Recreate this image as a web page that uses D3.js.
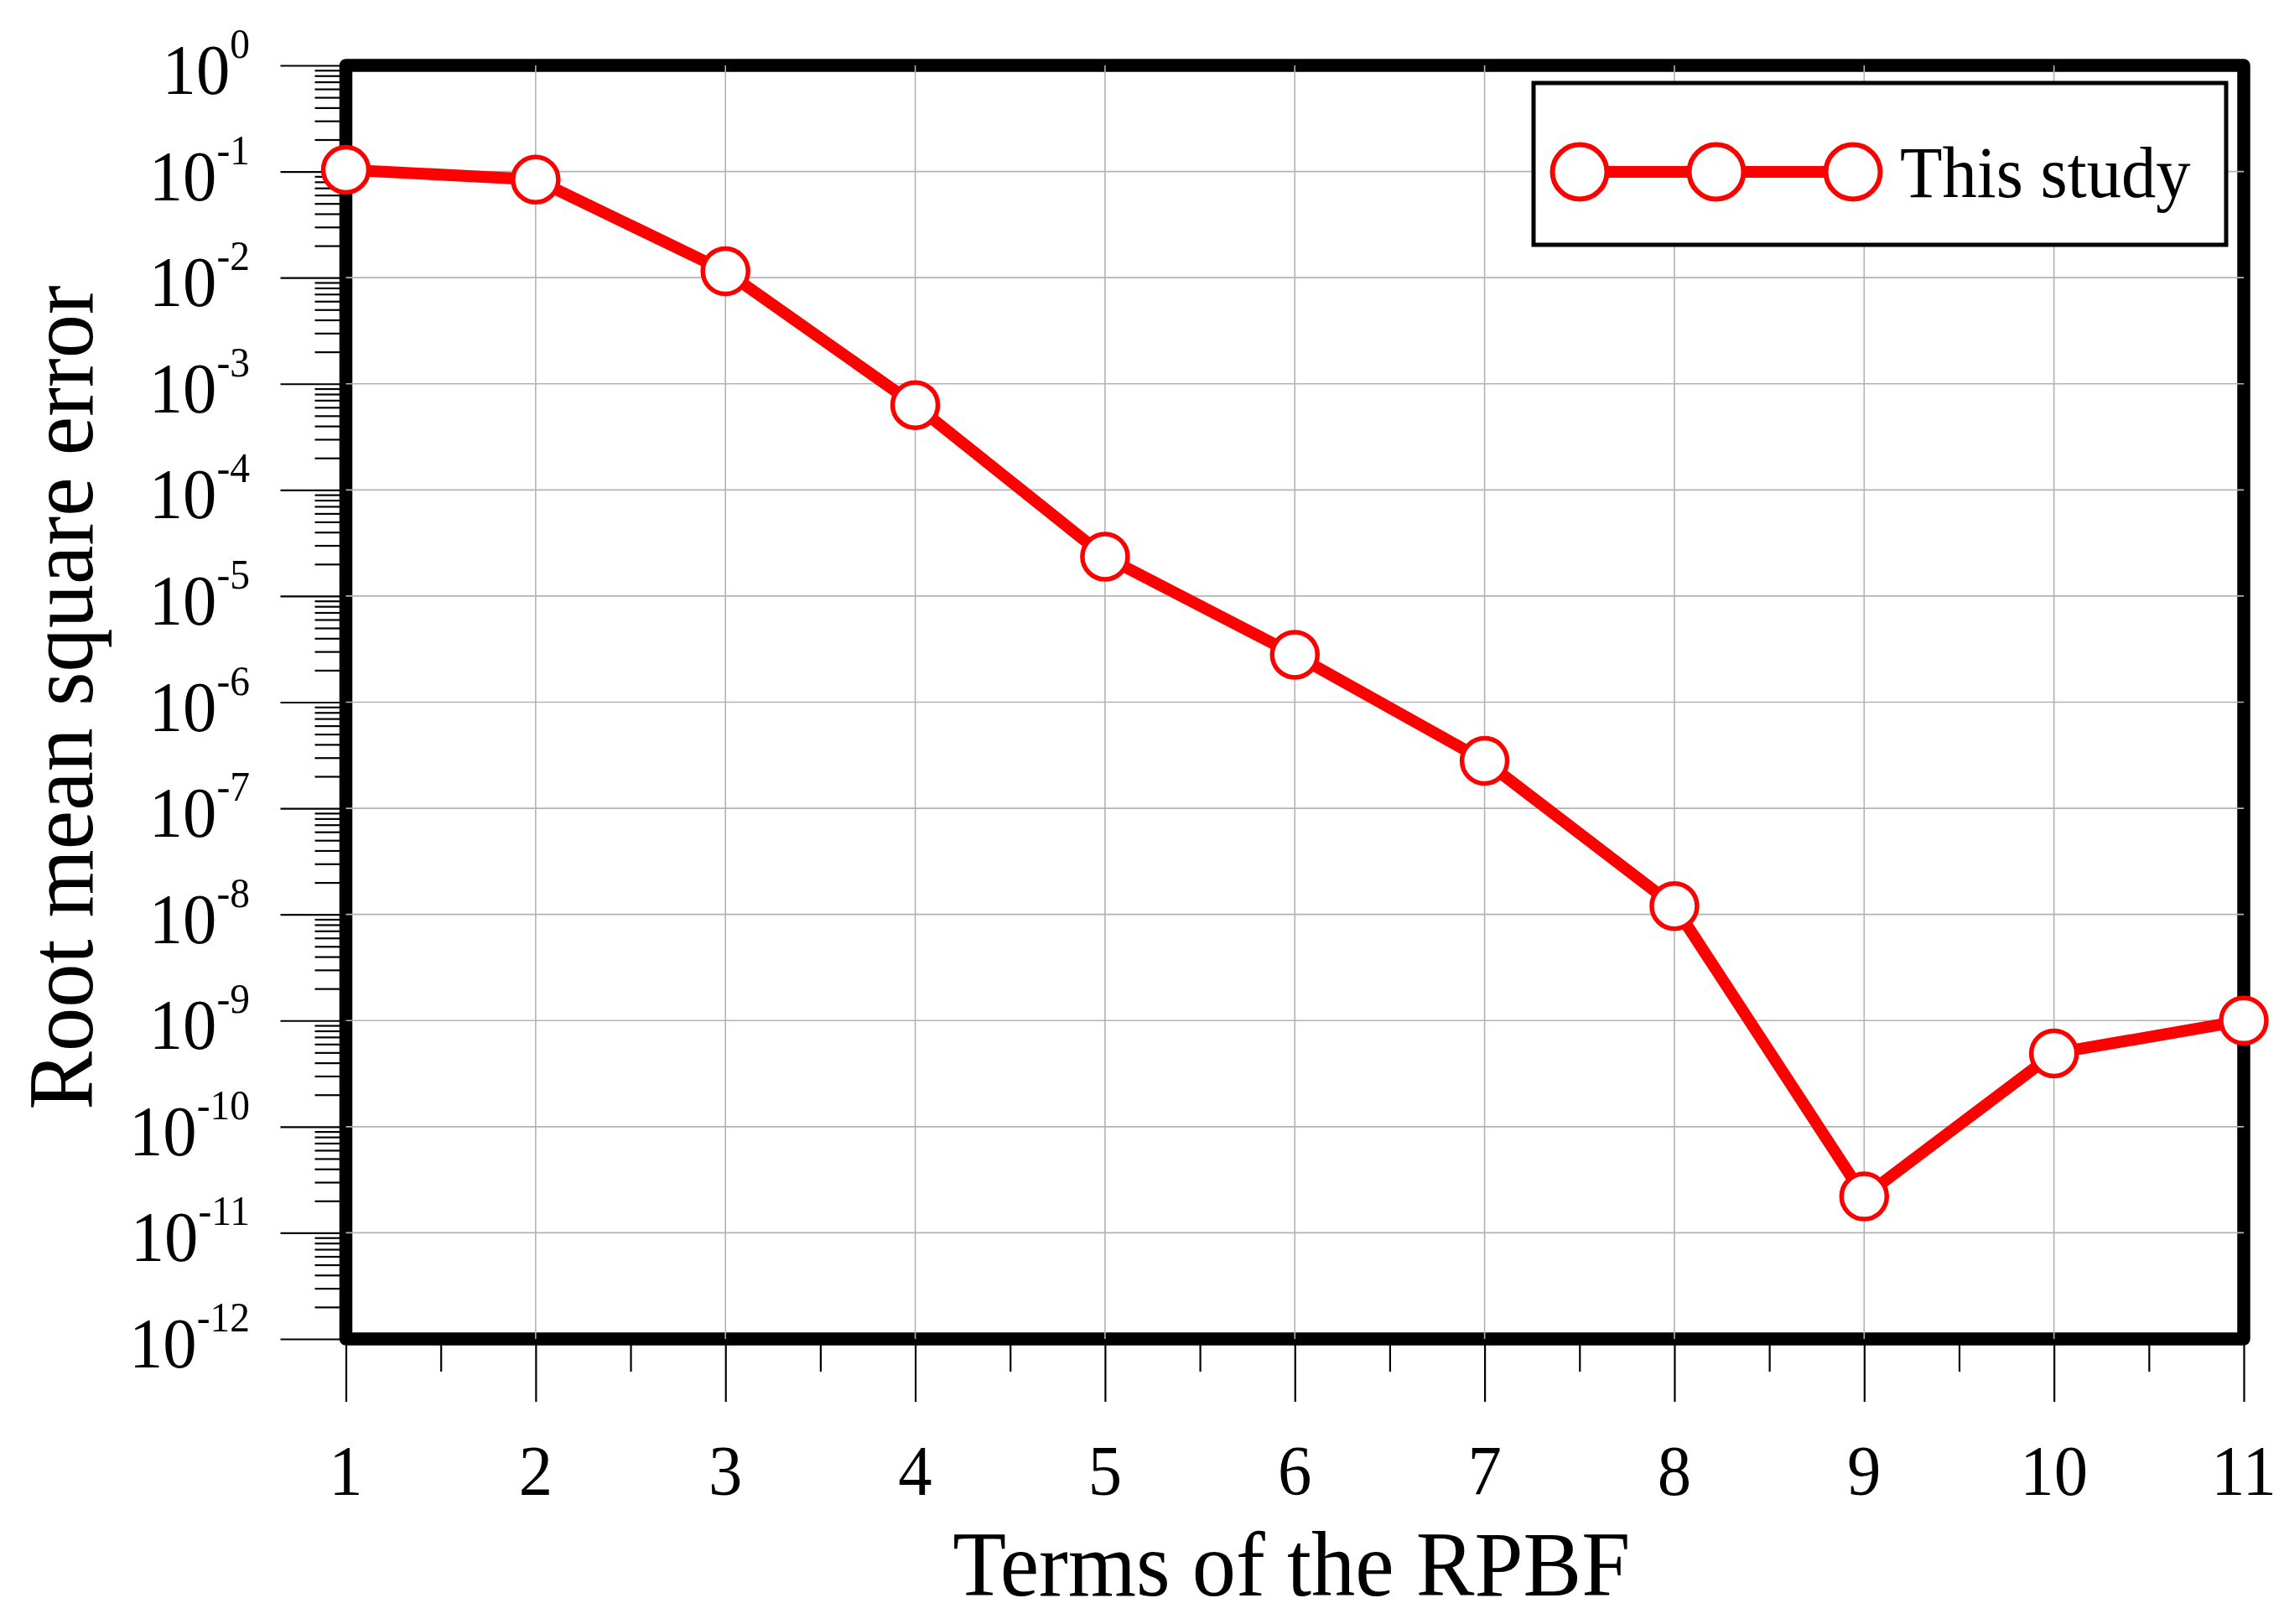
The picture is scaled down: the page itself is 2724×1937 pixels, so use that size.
<!DOCTYPE html>
<html>
<head>
<meta charset="utf-8">
<script src="https://cdn.jsdelivr.net/npm/d3@7"></script>
<style>
  html, body { margin: 0; padding: 0; background: #fff; }
  svg { display: block; }
  text { font-family: "Liberation Serif", "Times New Roman", serif; fill: #000; }
</style>
</head>
<body>
<svg id="chart" width="2724" height="1937"></svg>
<script>
// ---- data ----
const terms = [1, 2, 3, 4, 5, 6, 7, 8, 9, 10, 11];
const rmse = [0.104, 0.084, 0.0115, 6.3e-4, 2.35e-5, 2.8e-6, 2.8e-7, 1.2e-8, 2.2e-11, 4.9e-10, 1.0e-9];
const xTickLabels = ["1", "2", "3", "4", "5", "6", "7", "8", "9", "10", "11"];
const yExponents = [0, -1, -2, -3, -4, -5, -6, -7, -8, -9, -10, -11, -12];
const seriesName = "This study";
const xTitle = "Terms of the RPBF";
const yTitle = "Root mean square error";

// ---- layout ----
const pL = 412.5, pR = 2676, pT = 78, pB = 1597;
const sx = 0.95; // horizontal squeeze of the serif font

const svg = d3.select("#chart");
const x = d3.scaleLinear().domain([1, 11]).range([pL, pR]);
const y = d3.scaleLog().domain([1, 1e-12]).range([pT, pB]);

const majorY = yExponents.map(e => Math.pow(10, e));
const minorY = [];
yExponents.forEach(e => { if (e > -12) for (let k = 2; k <= 9; k++) minorY.push(k * Math.pow(10, e - 1)); });
const minorX = terms.slice(0, -1).map(t => t + 0.5);

// frame
svg.append("rect")
  .attr("x", pL).attr("y", pT)
  .attr("width", pR - pL).attr("height", pB - pT)
  .attr("fill", "none").attr("stroke", "#000").attr("stroke-width", 15.5)
  .attr("stroke-linejoin", "round");

// grid lines (interior ones, drawn over the frame like the reference)
const grid = svg.append("g").attr("stroke", "#b3b3b3").attr("stroke-width", 1.6);
grid.selectAll("line.gx").data(terms.slice(1, -1)).join("line")
  .attr("x1", d => x(d)).attr("x2", d => x(d))
  .attr("y1", pT).attr("y2", pB);
grid.selectAll("line.gy").data(majorY.slice(1, -1)).join("line")
  .attr("x1", pL).attr("x2", pR)
  .attr("y1", d => y(d)).attr("y2", d => y(d));

// axes ticks (outside)
function styleAxis(g) {
  g.select(".domain").remove();
  g.selectAll(".tick line").attr("stroke", "#000").attr("stroke-width", 2.2);
  g.selectAll(".tick text").remove();
}
svg.append("g").attr("transform", `translate(${pL - 7},0)`)
  .call(d3.axisLeft(y).tickValues(majorY).tickSize(71).tickFormat(""))
  .call(styleAxis);
svg.append("g").attr("transform", `translate(${pL - 7},0)`)
  .call(d3.axisLeft(y).tickValues(minorY).tickSize(30).tickFormat(""))
  .call(styleAxis);
svg.append("g").attr("transform", `translate(0,${pB + 7})`)
  .call(d3.axisBottom(x).tickValues(terms).tickSize(68).tickFormat(""))
  .call(styleAxis);
svg.append("g").attr("transform", `translate(0,${pB + 7})`)
  .call(d3.axisBottom(x).tickValues(minorX).tickSize(32).tickFormat(""))
  .call(styleAxis);

// y tick labels 10^n
const yl = svg.append("g");
yExponents.forEach(e => {
  const t = yl.append("text")
    .attr("transform", `translate(298,${y(Math.pow(10, e)) + 34}) scale(${sx},1)`)
    .attr("text-anchor", "end");
  t.append("tspan").attr("font-size", 85).text("10");
  t.append("tspan").attr("font-size", 50).attr("dy", -43).text(String(e));
});

// x tick labels
svg.append("g").selectAll("text").data(terms).join("text")
  .attr("transform", (d) => `translate(${x(d)},1783) scale(${sx},1)`)
  .attr("text-anchor", "middle").attr("font-size", 85)
  .text((d, i) => xTickLabels[i]);

// axis titles
svg.append("text")
  .attr("transform", `translate(${(pL + pR) / 2 - 4},1903) scale(${sx},1)`)
  .attr("text-anchor", "middle").attr("font-size", 110).text(xTitle);
svg.append("text")
  .attr("transform", `translate(110,832) rotate(-90) scale(${sx},1)`)
  .attr("text-anchor", "middle").attr("font-size", 110).text(yTitle);

// series line
const pts = terms.map((t, i) => [t, rmse[i]]);
svg.append("path").datum(pts)
  .attr("d", d3.line().x(d => x(d[0])).y(d => y(d[1])))
  .attr("fill", "none").attr("stroke", "#ff0000").attr("stroke-width", 14)
  .attr("stroke-linejoin", "miter");
svg.append("g").selectAll("circle").data(pts).join("circle")
  .attr("cx", d => x(d[0])).attr("cy", d => y(d[1])).attr("r", 27)
  .attr("fill", "#fff").attr("stroke", "#ff0000").attr("stroke-width", 5.5);

// legend
const lg = svg.append("g");
lg.append("rect").attr("x", 1829).attr("y", 99).attr("width", 826).attr("height", 193)
  .attr("fill", "#fff").attr("stroke", "#000").attr("stroke-width", 5);
const legX = [1884, 2047, 2210];
lg.append("line").attr("x1", legX[0]).attr("x2", legX[2]).attr("y1", 205).attr("y2", 205)
  .attr("stroke", "#ff0000").attr("stroke-width", 14);
lg.selectAll("circle").data(legX).join("circle")
  .attr("cx", d => d).attr("cy", 205).attr("r", 32.5)
  .attr("fill", "#fff").attr("stroke", "#ff0000").attr("stroke-width", 6);
lg.append("text").attr("transform", `translate(2266,235) scale(${sx},1)`)
  .attr("font-size", 87).text(seriesName);
</script>
</body>
</html>
